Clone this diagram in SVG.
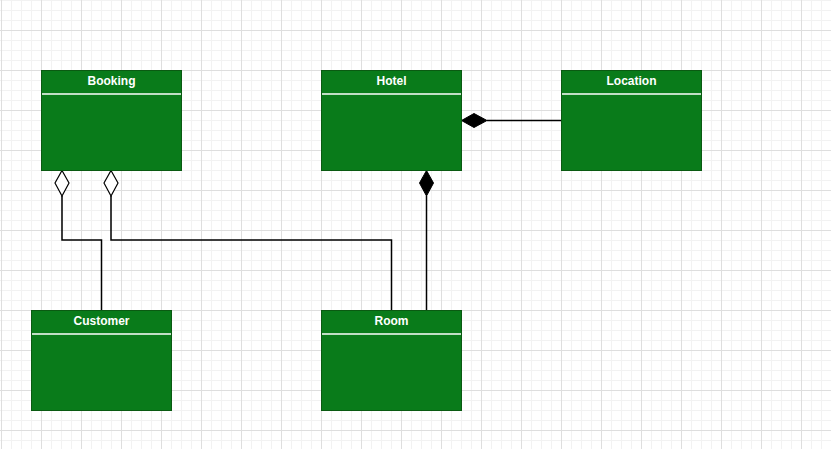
<svg xmlns="http://www.w3.org/2000/svg" width="831" height="449" viewBox="0 0 831 449">
<style>
.box{fill:#097b1a;stroke:#0a5a12;stroke-width:1}
.sep{stroke:#ffffff;stroke-width:1.5}
.title{font-family:"Liberation Sans",Arial,sans-serif;font-size:12px;font-weight:bold;fill:#ffffff;text-anchor:middle}
.conn{fill:none;stroke:#000000;stroke-width:1.5}
.hollow{fill:#ffffff;stroke:#000000;stroke-width:1.2}
.filled{fill:#000000;stroke:#000000;stroke-width:1}
</style>
<defs>
<pattern id="grid" patternUnits="userSpaceOnUse" x="1" y="30" width="40" height="40">
<path d="M10.5 0V40M20.5 0V40M30.5 0V40M0 10.5H40M0 20.5H40M0 30.5H40" stroke="#f2f2f2" stroke-width="1" fill="none"/>
<path d="M0.5 0V40M0 0.5H40" stroke="#dedede" stroke-width="1" fill="none"/>
</pattern>
</defs>
<rect x="0" y="0" width="831" height="449" fill="#ffffff"/>
<rect x="0" y="0" width="831" height="449" fill="url(#grid)"/>
<g id="connectors">
<path class="conn" d="M62 196V240H101.5V310"/>
<path class="hollow" d="M62 170.5L69 183L62 196L55 183Z"/>
<path class="conn" d="M111 196V240H391.5V310"/>
<path class="hollow" d="M111 170.5L118 183L111 196L104 183Z"/>
<path class="conn" d="M426.5 196V310"/>
<path class="filled" d="M426.5 170.5L433.5 183L426.5 196L419.5 183Z"/>
<path class="conn" d="M487 120.5H561"/>
<path class="filled" d="M461.5 120.5L474 113.5L487 120.5L474 127.5Z"/>
</g>
<g id="booking">
<rect class="box" x="41.5" y="70.5" width="140" height="100"/>
<line class="sep" x1="42" y1="94" x2="181" y2="94"/>
<text class="title" x="111.5" y="85">Booking</text>
</g>
<g id="hotel">
<rect class="box" x="321.5" y="70.5" width="140" height="100"/>
<line class="sep" x1="322" y1="94" x2="461" y2="94"/>
<text class="title" x="391.5" y="85">Hotel</text>
</g>
<g id="location">
<rect class="box" x="561.5" y="70.5" width="140" height="100"/>
<line class="sep" x1="562" y1="94" x2="701" y2="94"/>
<text class="title" x="631.5" y="85">Location</text>
</g>
<g id="customer">
<rect class="box" x="31.5" y="310.5" width="140" height="100"/>
<line class="sep" x1="32" y1="334" x2="171" y2="334"/>
<text class="title" x="101.5" y="325">Customer</text>
</g>
<g id="room">
<rect class="box" x="321.5" y="310.5" width="140" height="100"/>
<line class="sep" x1="322" y1="334" x2="461" y2="334"/>
<text class="title" x="391.5" y="325">Room</text>
</g>
</svg>
